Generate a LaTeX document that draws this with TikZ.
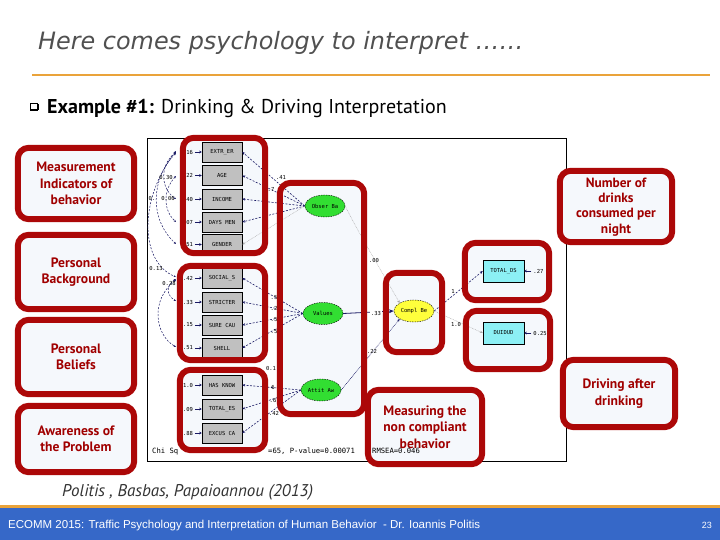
\documentclass[tikz,border=0pt]{standalone}
\usepackage{fontspec}
\setmainfont{DejaVu Sans}
\newfontfamily\ptsans{PT Sans}
\newfontfamily\arialf{Liberation Sans}
\newfontfamily\monof{DejaVu Sans Mono}
\usetikzlibrary{shapes.geometric,arrows.meta}
\definecolor{boxred}{RGB}{172,8,8}
\definecolor{boxtext}{RGB}{160,0,0}
\definecolor{boxfill}{RGB}{245,248,252}
\definecolor{titlegray}{RGB}{80,80,80}
\definecolor{orangeline}{RGB}{234,163,58}
\definecolor{footblue}{RGB}{54,104,200}
\definecolor{semgray}{RGB}{192,192,192}
\definecolor{semgreen}{RGB}{50,222,50}
\definecolor{semyellow}{RGB}{255,255,60}
\definecolor{semcyan}{RGB}{140,240,245}
\definecolor{navyc}{RGB}{25,25,100}
\begin{document}
\begin{tikzpicture}[x=1pt,y=-1pt,
 rfill/.style={fill=boxfill, rounded corners=11pt, inner sep=0pt},
 rline/.style={draw=boxred, line width=6pt, rounded corners=11pt},
 lbl/.style={font=\ptsans\bfseries\fontsize{13.6}{16.5}\selectfont, text=boxtext, align=center},
 ind/.style={draw=black, line width=0.5pt, fill=semgray, minimum width=40pt, minimum height=20pt, inner sep=0pt, font=\monof\fontsize{5.5}{6}\selectfont},
 lat/.style={ellipse, draw=black, line width=0.4pt, dash pattern=on 1.5pt off 1pt, fill=semgreen, minimum width=40pt, minimum height=22pt, inner sep=0pt, font=\monof\fontsize{5.5}{6}\selectfont},
 obsv/.style={draw=black, line width=0.5pt, fill=semcyan, minimum width=41pt, minimum height=22pt, inner sep=0pt, font=\monof\fontsize{5.5}{6}\selectfont},
 smalltxt/.style={font=\monof\fontsize{5.5}{6}\selectfont, inner sep=0pt},
 loadline/.style={navyc, line width=0.6pt, dash pattern=on 2pt off 1.5pt, -{Stealth[length=3pt,width=2.5pt]}},
 weakline/.style={gray!70, line width=0.4pt, dash pattern=on 0.8pt off 0.8pt, -{Stealth[length=3pt,width=2.5pt]}},
 errline/.style={navyc, line width=0.8pt, -{Stealth[length=2.5pt,width=2.5pt]}},
 covline/.style={navyc, line width=0.5pt, dash pattern=on 2pt off 1.5pt, {Stealth[length=2.5pt,width=2pt]}-{Stealth[length=2.5pt,width=2pt]}},
]
\useasboundingbox (0,0) rectangle (720,540);
\fill[white] (0,0) rectangle (720,540);

% title
\node[anchor=base west, font=\itshape\fontsize{23.9}{24}\selectfont, text=titlegray, inner sep=0pt] (title) at (38,50) {Here comes psychology to interpret ……};
\draw[orangeline, line width=2.5pt] (32,75) -- (710,75);
\node[draw, line width=0.6pt, minimum size=7pt, inner sep=0pt] (bul) at (34,107) {};
\draw[line width=1pt] ([xshift=0.8pt,yshift=-1.2pt]bul.north east) -- ([xshift=0.8pt,yshift=0.8pt]bul.south east) -- ([xshift=1.2pt,yshift=0.8pt]bul.south west);
\node[anchor=base west, font=\ptsans\fontsize{20}{20}\selectfont, inner sep=0pt] (ex) at (47,114) {\textbf{Example \#1:} Drinking \& Driving Interpretation};

% diagram frame
\draw[black, line width=0.8pt] (147,138) rectangle (566,461);

% box fills
\node[rfill, lbl, minimum width=116pt, minimum height=71pt] (L1) at (76,183.5) {Measurement\\Indicators of\\behavior};
\node[rfill, lbl, minimum width=116pt, minimum height=74pt] (L2) at (76,272) {Personal\\Background};
\node[rfill, lbl, minimum width=116pt, minimum height=74pt] (L3) at (76,357) {Personal\\Beliefs};
\node[rfill, lbl, minimum width=116pt, minimum height=66pt] (L4) at (76,439) {Awareness of\\the Problem};
\node[rfill, minimum width=82pt, minimum height=115pt] (BA) at (224,195.5) {};
\node[rfill, minimum width=85pt, minimum height=94pt] (BB) at (222.5,313) {};
\node[rfill, minimum width=85pt, minimum height=80pt] (BC) at (222.5,410) {};
\node[rfill, minimum width=84pt, minimum height=231pt] (BD) at (322,298.5) {};
\node[rfill, minimum width=56pt, minimum height=79pt] (BE) at (414,312.5) {};
\node[rfill, minimum width=84pt, minimum height=57pt] (BF) at (507,271.5) {};
\node[rfill, minimum width=84pt, minimum height=58pt] (BG) at (508,340) {};
\node[rfill, lbl, minimum width=114pt, minimum height=74pt] (BH) at (425,427) {Measuring the\\non compliant\\behavior};
\node[rfill, minimum width=112pt, minimum height=71pt] (BI) at (616,206.5) {};
\node[lbl, font=\ptsans\bfseries\fontsize{13.4}{15.3}\selectfont, inner sep=0pt] (BItext) at (616,207) {Number of\\drinks\\consumed per\\night};
\node[rfill, lbl, minimum width=112pt, minimum height=67pt] (BJ) at (619,393.5) {Driving after\\drinking};

% SEM indicators
\node[ind] (i1) at (222,152) {EXTR\_ER};
\node[ind] (i2) at (222,175.5) {AGE};
\node[ind] (i3) at (222,199) {INCOME};
\node[ind] (i4) at (222,222) {DAYS MEN};
\node[ind] (i5) at (222,244.5) {GENDER};
\node[ind] (i6) at (222,278) {SOCIAL\_S};
\node[ind] (i7) at (222,302) {STRICTER};
\node[ind] (i8) at (222,325) {SURE CAU};
\node[ind] (i9) at (222,348) {SHELL};
\node[ind] (i10) at (222,385) {HAS KNOW};
\node[ind] (i11) at (222,409) {TOTAL\_ES};
\node[ind] (i12) at (222,433) {EXCUS CA};

\foreach \n/\v in {i1/.16, i2/.22, i3/.40, i4/.07, i5/.51, i6/.42, i7/.33, i8/.15, i9/.51, i10/1.0, i11/.09, i12/.88} {
  \draw[errline] ([xshift=-7pt]\n.west) -- (\n.west);
  \node[smalltxt, anchor=east] (e\n) at ([xshift=-8.5pt]\n.west) {\v};
}

% latent variables
\node[lat] (Ob) at (325,206) {Obser Ba};
\node[lat] (Va) at (323,313.5) {Values};
\node[lat] (At) at (321,390) {Attit Aw};
\node[lat, fill=semyellow] (Co) at (414,311) {Compl Be};
\node[obsv] (TD) at (503.5,271) {TOTAL\_DS};
\node[obsv] (DU) at (503.5,333) {DUIDUD};

% loadings
\foreach \n in {i1,i2,i3,i4} \draw[loadline] (Ob.west) -- (\n.east);
\draw[weakline] (Ob.west) -- (i5.east);
\foreach \n in {i6,i7,i8,i9} \draw[loadline] (Va.west) -- (\n.east);
\foreach \n in {i10,i11,i12} \draw[loadline] (At.west) -- (\n.east);

\node[smalltxt] (lo1) at (281,177) {.41};
\node[smalltxt] (lo2) at (271,189) {.7};
\node[smalltxt] (lv1) at (274,298) {.5};
\node[smalltxt] (lv2) at (274,308) {.2};
\node[smalltxt] (lv3) at (274,320) {.5};
\node[smalltxt] (lv4) at (274,332) {.5};
\node[smalltxt] (la1) at (271,368) {0.1};
\node[smalltxt] (la2) at (273,387) {6};
\node[smalltxt] (la3) at (273,400) {.6};
\node[smalltxt] (la4) at (274,413) {.42};

% structural paths
\draw[weakline] (Ob.east) .. controls (358,232) and (382,272) .. (Co.north west);
\node[smalltxt] (s1) at (374,260) {.00};
\draw[navyc, line width=0.8pt, -{Stealth[length=5pt,width=4pt]}] (Va.east) -- (Co.west);
\node[smalltxt, fill=white, inner sep=1pt] (s2) at (376,313) {.33};
\draw[navyc, line width=0.5pt, dash pattern=on 0.8pt off 0.8pt, -{Stealth[length=3pt,width=2.5pt]}] (At.east) -- (Co.south west);
\node[smalltxt] (s3) at (372,351) {.22};
\draw[loadline] (Co.east) -- (TD.west);
\node[smalltxt] (s4) at (453,291) {1};
\draw[weakline] (Co.east) -- (DU.west);
\node[smalltxt] (s5) at (456,324) {1.0};
\draw[errline] ([xshift=7pt]TD.east) -- (TD.east);
\node[smalltxt, anchor=west] (eTD) at ([xshift=9pt]TD.east) {.27};
\draw[errline] ([xshift=7pt]DU.east) -- (DU.east);
\node[smalltxt, anchor=west] (eDU) at ([xshift=9pt]DU.east) {0.25};

% error covariances
\draw[covline] (176,152) .. controls (160,165) and (160,188) .. (176,199);
\draw[covline] (176,176) .. controls (163,190) and (163,210) .. (176,222);
\draw[covline] (176,153) .. controls (150,180) and (150,220) .. (176,244);
\draw[covline] (176,151) .. controls (138,200) and (140,262) .. (176,277);
\draw[covline] (176,279) .. controls (166,285) and (166,295) .. (176,301);
\draw[covline] (176,280) .. controls (150,300) and (155,335) .. (176,347);
\node[smalltxt] (c1) at (166,177) {0.30};
\node[smalltxt] (c2) at (168,198) {0.06};
\node[smalltxt] (c3) at (152,198) {0.};
\node[smalltxt] (c4) at (156,268) {0.13};
\node[smalltxt] (c5) at (169,283) {0.28};

% fit statistics
\node[smalltxt, font=\monof\fontsize{7.2}{8}\selectfont, anchor=base west] (chi1) at (152,453) {Chi Sq};
\node[smalltxt, font=\monof\fontsize{7.2}{8}\selectfont, anchor=base west] (chi2) at (268,453) {=65, P-value=0.00071};
\node[smalltxt, font=\monof\fontsize{7.2}{8}\selectfont, anchor=base west] (chi3) at (372,453) {RMSEA=0.046};

% box borders
\foreach \b in {L1,L2,L3,L4,BA,BB,BC,BD,BE,BF,BG,BH,BI,BJ}
  \draw[rline] (\b.north west) rectangle (\b.south east);

% reference and footer
\node[anchor=base west, font=\ptsans\itshape\fontsize{17}{17}\selectfont, text=black!80, inner sep=0pt] (ref) at (62,496) {Politis , Basbas, Papaioannou (2013)};
\fill[footblue] (0,508) rectangle (720,540);
\draw[orangeline, line width=3pt] (0,506) -- (720,506);
\node[anchor=base west, font=\arialf\fontsize{11.5}{12}\selectfont, text=white, inner sep=0pt] (ft) at (8,528) {ECOMM 2015: Traffic Psychology and Interpretation of Human Behavior \ - Dr. Ioannis Politis};
\node[anchor=base east, font=\arialf\fontsize{9}{10}\selectfont, text=white, inner sep=0pt] (pg) at (712,528) {23};
\end{tikzpicture}
\end{document}
